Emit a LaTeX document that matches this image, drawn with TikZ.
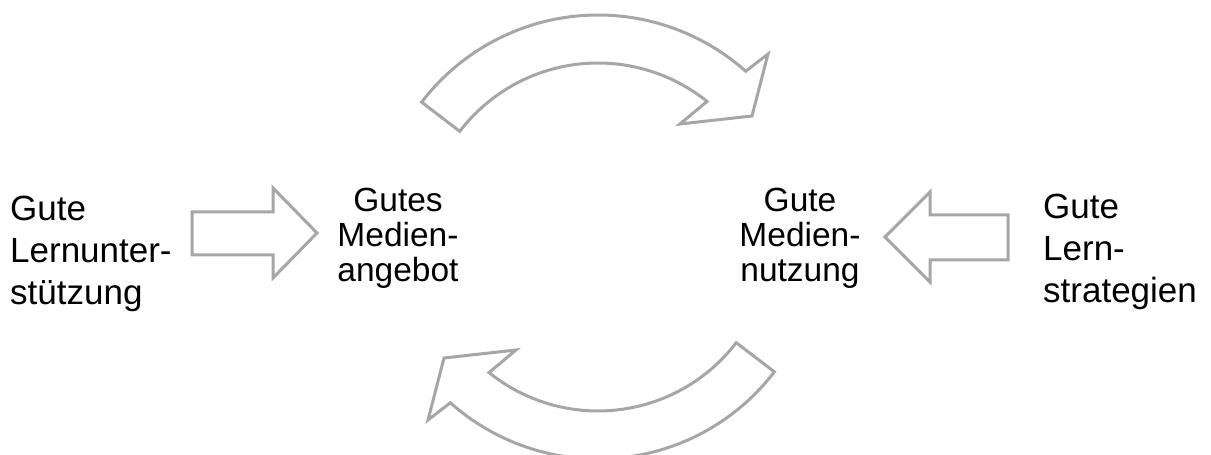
\documentclass[tikz,border=0pt]{standalone}
\usepackage{fontspec}
\setmainfont{Liberation Sans}
\definecolor{arrowgray}{RGB}{166,166,166}
\begin{document}
\begin{tikzpicture}[x=1pt,y=1pt,
  shapeline/.style={draw=arrowgray, line width=3pt, line join=miter, fill=white},
  outertext/.style={align=left, inner sep=0pt, font=\fontsize{35}{42}\selectfont},
  innertext/.style={align=center, inner sep=0pt, font=\fontsize{33.5}{35}\selectfont}]
\useasboundingbox (0,0) rectangle (1211,455);
\clip (0,0) rectangle (1211,455);
\coordinate (c) at (598,218);
% curved cycle arrows
\draw[shapeline] ([shift={(142.6:222pt)}]c) arc[start angle=142.6, end angle=48.3, radius=222pt]
  -- (768,401) -- (752,339) -- (680,331) -- ([shift={(51.2:174pt)}]c)
  arc[start angle=51.2, end angle=142.6, radius=174pt] -- cycle;
\begin{scope}[rotate around={180:(598,218)}]
\draw[shapeline] ([shift={(142.6:222pt)}]c) arc[start angle=142.6, end angle=48.3, radius=222pt]
  -- (768,401) -- (752,339) -- (680,331) -- ([shift={(51.2:174pt)}]c)
  arc[start angle=51.2, end angle=142.6, radius=174pt] -- cycle;
\end{scope}
% text nodes
\node[outertext, anchor=west] (lu) at (10,201) {Gute\\Lernunter-\\stützung};
\node[outertext, anchor=west] (ls) at (1043,203) {Gute\\Lern-\\strategien};
\node[innertext] (ma) at (398,217) {Gutes\\Medien-\\angebot};
\node[innertext] (mn) at (800,217) {Gute\\Medien-\\nutzung};
% block arrows
\draw[shapeline] (192,243) -- (273,243) -- (273,267) -- (317,222) -- (273,177) -- (273,200) -- (192,200) -- cycle;
\draw[shapeline] (1008,240) -- (930,240) -- (930,263) -- (885,218) -- (930,173) -- (930,195) -- (1008,195) -- cycle;
\end{tikzpicture}
\end{document}
